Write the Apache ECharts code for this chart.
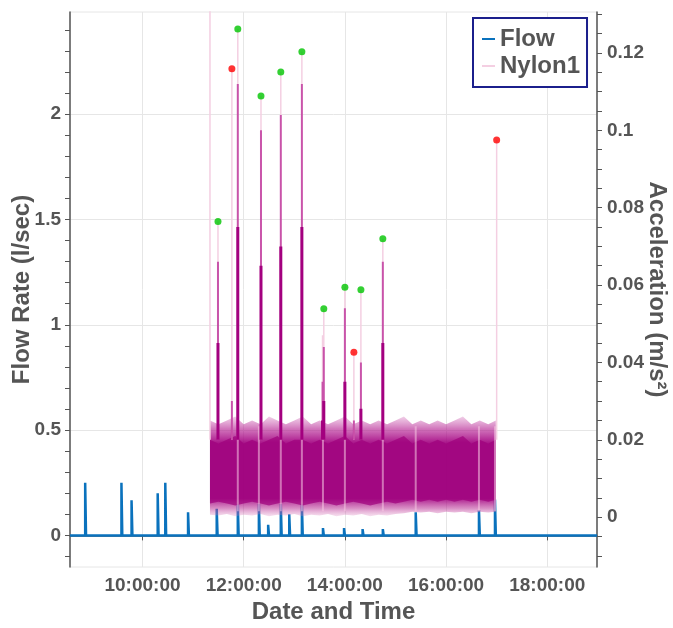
<!DOCTYPE html>
<html><head><meta charset="utf-8">
<script src="https://cdn.jsdelivr.net/npm/echarts@6/dist/echarts.min.js"></script>
<style>html,body{margin:0;padding:0;background:#fff}#c{width:673px;height:628px}</style>
</head><body><div id="c"></div>
<script>
// ---------- axes ----------
const xMin = '08:34:00', xMax = '18:59:00';
const xTickLabels = ['10:00:00', '12:00:00', '14:00:00', '16:00:00', '18:00:00'];
const flowMin = -0.15, flowMax = 2.485;
const flowTicks = [0, 0.5, 1, 1.5, 2];
const flowMinorTicks = [-0.1, 0, 0.1, 0.2, 0.3, 0.4, 0.5, 0.6, 0.7, 0.8, 0.9, 1, 1.1, 1.2, 1.3, 1.4, 1.5, 1.6, 1.7, 1.8, 1.9, 2, 2.1, 2.2, 2.3, 2.4];
const accMin = -0.0129, accMax = 0.1306;
const accTicks = [0, 0.02, 0.04, 0.06, 0.08, 0.1, 0.12];
const accMinorTicks = [-0.01, -0.005, 0, 0.005, 0.01, 0.015, 0.02, 0.025, 0.03, 0.035, 0.04, 0.045, 0.05, 0.055, 0.06, 0.065, 0.07, 0.075, 0.08, 0.085, 0.09, 0.095, 0.1, 0.105, 0.11, 0.115, 0.12, 0.125, 0.13];

// ---------- Flow (l/sec) ----------
const flowStart = '08:34:00', flowEnd = '18:59:00';
const flowSpikeTimes = ['08:52:00', '09:35:00', '09:47:00', '10:18:00', '10:27:00', '10:54:00', '11:28:00', '11:53:00', '12:18:00', '12:29:00', '12:44:00', '12:54:00', '13:09:00', '13:34:00', '13:59:00', '14:21:00', '14:45:00', '15:24:00', '16:39:00', '16:58:00'];
const flowSpikeValues = [0.25, 0.25, 0.167, 0.2, 0.25, 0.11, 0.126, 0.15, 0.15, 0.05, 0.15, 0.10, 0.15, 0.035, 0.035, 0.03, 0.03, 0.11, 0.12, 0.17];
const flowSpikeMinutes = [1, 1, 1, 1, 1, 1, 1, 1, 1, 1, 1, 1, 1, 1, 1, 1, 1, 1, 1, 1];

// ---------- Nylon1 acceleration (m/s^2) : band envelope ----------
const bandTimes = ['11:20:00', '11:30:00', '11:40:00', '11:50:00', '12:00:00', '12:10:00', '12:20:00', '12:30:00', '12:40:00', '12:50:00', '13:00:00', '13:10:00', '13:20:00', '13:30:00', '13:40:00', '13:50:00', '14:00:00', '14:10:00', '14:20:00', '14:30:00', '14:40:00', '14:50:00', '15:00:00', '15:10:00', '15:20:00', '15:30:00', '15:40:00', '15:50:00', '16:00:00', '16:10:00', '16:20:00', '16:30:00', '16:40:00', '16:50:00', '16:59:00'];
const bandOuterHigh = [0.025, 0.024, 0.025, 0.026, 0.024, 0.025, 0.024, 0.026, 0.025, 0.024, 0.025, 0.026, 0.024, 0.025, 0.024, 0.025, 0.026, 0.024, 0.025, 0.024, 0.025, 0.024, 0.025, 0.026, 0.024, 0.025, 0.024, 0.025, 0.024, 0.025, 0.026, 0.024, 0.025, 0.024, 0.025];
const bandInnerHigh = [0.020, 0.019, 0.020, 0.021, 0.019, 0.020, 0.019, 0.020, 0.021, 0.019, 0.020, 0.020, 0.019, 0.020, 0.019, 0.020, 0.021, 0.019, 0.020, 0.019, 0.020, 0.019, 0.020, 0.021, 0.019, 0.020, 0.019, 0.020, 0.019, 0.020, 0.021, 0.019, 0.020, 0.019, 0.020];
const bandInnerLow = [0.0035, 0.0040, 0.0035, 0.0030, 0.0035, 0.0040, 0.0035, 0.0030, 0.0035, 0.0040, 0.0035, 0.0030, 0.0035, 0.0040, 0.0035, 0.0030, 0.0035, 0.0040, 0.0035, 0.0030, 0.0035, 0.0040, 0.0035, 0.0040, 0.0045, 0.0040, 0.0045, 0.0040, 0.0045, 0.0040, 0.0045, 0.0040, 0.0045, 0.0040, 0.0045];
const bandOuterLow = [0.0006, 0.0004, 0.0008, 0.0002, 0.0006, 0.0004, 0.0008, 0.0002, 0.0006, 0.0004, 0.0008, 0.0002, 0.0006, 0.0004, 0.0008, 0.0002, 0.0006, 0.0004, 0.0008, 0.0002, 0.0006, 0.0004, 0.0008, 0.0010, 0.0014, 0.0012, 0.0014, 0.0010, 0.0014, 0.0012, 0.0014, 0.0010, 0.0014, 0.0012, 0.0014];
// lighter streaks through the band
const bandGapTimes = ['11:53:00', '12:18:00', '12:44:00', '13:09:00', '13:34:00', '14:00:00', '14:45:00', '15:24:00', '16:39:00', '16:58:00'];

// ---------- Nylon1 spikes ----------
const spikeBase = 0.02;
const spikeTimes = ['11:20:00', '11:29:30', '11:46:00', '11:53:00', '12:20:30', '12:44:00', '13:09:00', '13:33:30', '13:35:00', '14:00:00', '14:10:40', '14:19:00', '14:45:00', '17:00:00'];
const spikeTops = [0.14, 0.0764, 0.1159, 0.1262, 0.1089, 0.1151, 0.1203, 0.047, 0.0539, 0.0594, 0.0426, 0.0588, 0.072, 0.0975];
const spikeCores = [0.02, 0.066, 0.03, 0.112, 0.10, 0.104, 0.112, 0.035, 0.044, 0.054, 0.025, 0.04, 0.066, 0.02];
const spikeRoots = [0.02, 0.045, 0.02, 0.075, 0.065, 0.07, 0.075, 0.025, 0.03, 0.035, 0.02, 0.028, 0.045, 0.02];

// ---------- detected peaks ----------
const greenPeakTimes = ['11:29:30', '11:53:00', '12:20:30', '12:44:00', '13:09:00', '13:35:00', '14:00:00', '14:19:00', '14:45:00'];
const greenPeakValues = [0.0764, 0.1262, 0.1089, 0.1151, 0.1203, 0.0539, 0.0594, 0.0588, 0.072];
const redPeakTimes = ['11:46:00', '14:10:40', '17:00:00'];
const redPeakValues = [0.1159, 0.0426, 0.0975];

// ---------- helpers ----------
function hr(hms) {
  const p = hms.split(':').map(Number);
  return p[0] + p[1] / 60 + (p[2] || 0) / 3600;
}
function fmt(v) {
  const tot = Math.round(v * 3600);
  const z = n => String(n).padStart(2, '0');
  return z(Math.floor(tot / 3600)) + ':' + z(Math.floor((tot % 3600) / 60)) + ':' + z(tot % 60);
}

const flowData = [[hr(flowStart), 0]];
flowSpikeTimes.forEach((t, i) => {
  const a = hr(t), b = a + flowSpikeMinutes[i] / 60;
  flowData.push([a, 0], [a, flowSpikeValues[i]], [b, flowSpikeValues[i]], [b, 0]);
});
flowData.push([hr(flowEnd), 0]);

function spikeLines(tops) {
  const out = [];
  spikeTimes.forEach((t, i) => {
    const x = hr(t);
    out.push([x, spikeBase], [x, tops[i]], [x, '-']);
  });
  return out;
}
const gapLines = [];
bandGapTimes.forEach(t => {
  const x = hr(t);
  gapLines.push([x, 0.0015], [x, 0.0235], [x, '-']);
});

function bandPolygon(api, hi, lo, fill) {
  const top = bandTimes.map((t, i) => api.coord([hr(t), hi[i]]));
  const bot = bandTimes.map((t, i) => api.coord([hr(t), lo[i]])).reverse();
  return { type: 'polygon', shape: { points: top.concat(bot) }, style: { fill: fill } };
}
const outerFill = {
  type: 'linear', x: 0, y: 0, x2: 0, y2: 1,
  colorStops: [
    { offset: 0, color: 'rgba(205,90,175,0.30)' },
    { offset: 0.12, color: 'rgba(180,30,145,0.60)' },
    { offset: 0.26, color: 'rgba(162,0,128,0.90)' },
    { offset: 0.82, color: 'rgba(162,0,128,0.90)' },
    { offset: 0.92, color: 'rgba(185,50,150,0.55)' },
    { offset: 1, color: 'rgba(220,130,190,0.25)' }
  ]
};

const TXT = '#555555';
const FONT = 'Liberation Sans';
const pale = '#f4cfe2';
const mid = 'rgba(185,40,150,0.75)';
const deep = '#a3007f';
const nameStyle = { fontSize: 24, fontWeight: 'bold', color: TXT, fontFamily: FONT };

const chart = echarts.init(document.getElementById('c'), null, { renderer: 'canvas' });
chart.setOption({
  animation: false,
  backgroundColor: '#ffffff',
  textStyle: { fontFamily: FONT },
  grid: {
    left: 70, right: 76, top: 12, bottom: 61, containLabel: false, outerBoundsMode: 'none',
    show: true, borderColor: '#e6e6e6', borderWidth: 1
  },
  legend: {
    orient: 'vertical', left: 473, top: 18,
    data: ['Flow', 'Nylon1'],
    icon: 'rect', itemWidth: 13, itemHeight: 2, itemGap: 3,
    padding: [9, 7, 9, 9],
    backgroundColor: '#ffffff', borderColor: '#1b1f8c', borderWidth: 2, borderRadius: 0,
    textStyle: { fontSize: 24, fontWeight: 'bold', color: TXT, fontFamily: FONT }
  },
  xAxis: {
    type: 'value', min: hr(xMin), max: hr(xMax),
    name: 'Date and Time', nameLocation: 'middle', nameGap: 33, nameMoveOverlap: false,
    nameTextStyle: nameStyle,
    axisLine: { show: true, lineStyle: { color: '#555', width: 1.5 } },
    axisTick: { show: true, length: 5, lineStyle: { color: '#555' }, customValues: xTickLabels.map(hr) },
    axisLabel: { customValues: xTickLabels.map(hr), formatter: v => fmt(v), fontSize: 19, fontWeight: 'bold', color: TXT, margin: 9, fontFamily: FONT },
    splitLine: { show: true, lineStyle: { color: '#e6e6e6', width: 1 } }
  },
  yAxis: [
    {
      type: 'value', position: 'left', min: flowMin, max: flowMax,
      name: 'Flow Rate (l/sec)', nameLocation: 'middle', nameGap: 36, nameMoveOverlap: false,
      nameTextStyle: nameStyle,
      axisLine: { show: true, lineStyle: { color: '#555', width: 1.5 } },
      axisTick: { show: true, length: 5, lineStyle: { color: '#555' }, customValues: flowTicks },
      axisLabel: { customValues: flowTicks, fontSize: 19, fontWeight: 'bold', color: TXT, margin: 9, fontFamily: FONT },
      splitLine: { show: true, lineStyle: { color: '#e6e6e6', width: 1 } }
    },
    {
      type: 'value', position: 'left', min: flowMin, max: flowMax,
      axisLine: { show: false },
      axisTick: { show: true, length: 5, lineStyle: { color: '#555' }, customValues: flowMinorTicks },
      axisLabel: { show: false }, splitLine: { show: false }
    },
    {
      type: 'value', position: 'right', min: accMin, max: accMax,
      name: 'Acceleration (m/s²)', nameLocation: 'middle', nameGap: 48, nameRotate: -90, nameMoveOverlap: false,
      nameTextStyle: nameStyle,
      axisLine: { show: true, lineStyle: { color: '#555', width: 1.5 } },
      axisTick: { show: true, length: 5, lineStyle: { color: '#555' }, customValues: accTicks },
      axisLabel: { customValues: accTicks, fontSize: 19, fontWeight: 'bold', color: TXT, margin: 10, fontFamily: FONT },
      splitLine: { show: false }
    },
    {
      type: 'value', position: 'right', min: accMin, max: accMax,
      axisLine: { show: false },
      axisTick: { show: true, length: 5, lineStyle: { color: '#555' }, customValues: accMinorTicks },
      axisLabel: { show: false }, splitLine: { show: false }
    }
  ],
  series: [
    {
      name: 'Flow', type: 'line', yAxisIndex: 0, data: flowData, showSymbol: false, z: 2,
      itemStyle: { color: '#0a72bd' }, lineStyle: { color: '#0a72bd', width: 2.5 }
    },
    {
      name: 'Nylon1 band', type: 'custom', yAxisIndex: 2, z: 3,
      data: [[hr(bandTimes[0]), bandInnerHigh[0]]],
      encode: { x: 0, y: 1 },
      renderItem: (params, api) => ({
        type: 'group',
        children: [
          bandPolygon(api, bandOuterHigh, bandOuterLow, outerFill),
          bandPolygon(api, bandInnerHigh, bandInnerLow, 'rgba(158,0,124,0.7)')
        ]
      })
    },
    {
      name: 'band streaks', type: 'line', yAxisIndex: 2, data: gapLines, showSymbol: false, z: 4, connectNulls: false,
      lineStyle: { color: 'rgba(245,200,225,0.55)', width: 2 }
    },
    {
      name: 'Nylon1', type: 'line', yAxisIndex: 2, data: spikeLines(spikeTops), showSymbol: false, z: 5, connectNulls: false,
      itemStyle: { color: pale }, lineStyle: { color: pale, width: 1.5 }
    },
    {
      name: 'Nylon1 mid', type: 'line', yAxisIndex: 2, data: spikeLines(spikeCores), showSymbol: false, z: 6, connectNulls: false,
      lineStyle: { color: mid, width: 2 }
    },
    {
      name: 'Nylon1 core', type: 'line', yAxisIndex: 2, data: spikeLines(spikeRoots), showSymbol: false, z: 6, connectNulls: false,
      lineStyle: { color: deep, width: 3 }
    },
    {
      name: 'peaks', type: 'scatter', yAxisIndex: 2, z: 7, symbolSize: 7,
      data: greenPeakTimes.map((t, i) => [hr(t), greenPeakValues[i]]),
      itemStyle: { color: '#00c400' }
    },
    {
      name: 'false peaks', type: 'scatter', yAxisIndex: 2, z: 7, symbolSize: 7,
      data: redPeakTimes.map((t, i) => [hr(t), redPeakValues[i]]),
      itemStyle: { color: '#ff0000' }
    }
  ]
});
</script></body></html>
